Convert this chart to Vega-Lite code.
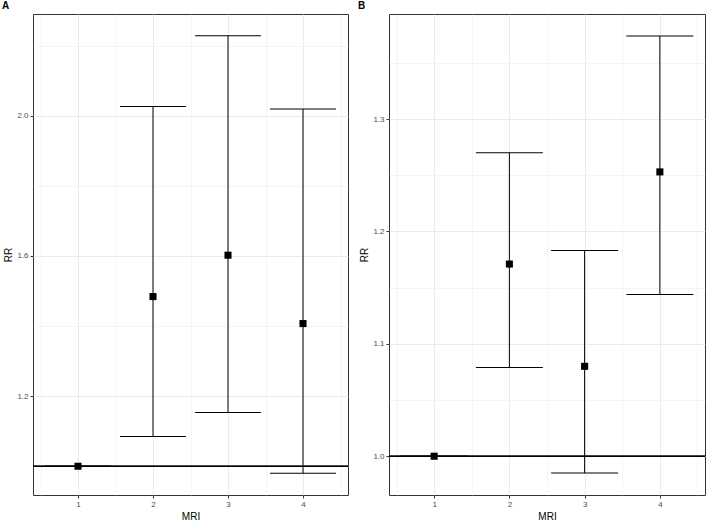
{
  "$schema": "https://vega.github.io/schema/vega-lite/v6.json",
  "background": "white",
  "padding": {"left": 1, "top": 0, "right": 3, "bottom": 2},
  "spacing": 8,
  "config": {
    "font": "Liberation Sans",
    "view": {"stroke": "#333333", "strokeWidth": 1},
    "axis": {
      "domain": false,
      "tickSize": 3,
      "tickColor": "#333333",
      "labelColor": "#4D4D4D",
      "labelFontSize": 8,
      "labelPadding": 2,
      "titleFontSize": 10,
      "titleFontWeight": "normal",
      "titleColor": "#000000",
      "titlePadding": 3,
      "gridColor": "#EBEBEB"
    },
    "title": {"fontSize": 10, "fontWeight": "bold", "anchor": "start", "frame": "group", "offset": 3}
  },
  "datasets": {
    "A": [
      {"MRI": 1, "RR": 1.0, "lower": 1.0, "upper": 1.0},
      {"MRI": 2, "RR": 1.484, "lower": 1.085, "upper": 2.026},
      {"MRI": 3, "RR": 1.602, "lower": 1.153, "upper": 2.228},
      {"MRI": 4, "RR": 1.407, "lower": 0.98, "upper": 2.019}
    ],
    "B": [
      {"MRI": 1, "RR": 1.0, "lower": 1.0, "upper": 1.0},
      {"MRI": 2, "RR": 1.171, "lower": 1.079, "upper": 1.27},
      {"MRI": 3, "RR": 1.08, "lower": 0.985, "upper": 1.183},
      {"MRI": 4, "RR": 1.253, "lower": 1.144, "upper": 1.374}
    ]
  },
  "hconcat": [
    {
      "title": {"text": "A", "dx": -31},
      "width": 315,
      "height": 481,
      "data": {"name": "A"},
      "encoding": {
        "x": {
          "field": "MRI", "type": "quantitative", "title": "MRI",
          "scale": {"domain": [0.4, 4.6], "nice": false, "zero": false},
          "axis": {
            "values": [0.5, 1, 1.5, 2, 2.5, 3, 3.5, 4, 4.5],
            "labelExpr": "datum.value % 1 === 0 ? format(datum.value, 'd') : ''",
            "gridWidth": {"condition": {"test": "datum.value % 1 === 0", "value": 1}, "value": 0.5},
            "tickOpacity": {"condition": {"test": "datum.value % 1 === 0", "value": 1}, "value": 0}
          }
        }
      },
      "layer": [
        {
          "mark": {"type": "rule", "color": "#000000", "strokeWidth": 1},
          "encoding": {
            "y": {
              "field": "lower", "type": "quantitative", "title": "RR",
              "scale": {"domain": [0.918, 2.29], "nice": false, "zero": false},
              "axis": {
                "values": [1.0, 1.2, 1.4, 1.6, 1.8, 2.0, 2.2],
                "labelExpr": "abs(datum.value/0.4 - round(datum.value/0.4)) < 0.01 ? format(datum.value, '.1f') : ''",
                "gridWidth": {"condition": {"test": "abs(datum.value/0.4 - round(datum.value/0.4)) < 0.01", "value": 1}, "value": 0.5},
                "tickOpacity": {"condition": {"test": "abs(datum.value/0.4 - round(datum.value/0.4)) < 0.01", "value": 1}, "value": 0}
              }
            },
            "y2": {"field": "upper"}
          }
        },
        {
          "mark": {"type": "tick", "orient": "horizontal", "size": 66, "thickness": 1, "color": "#000000", "opacity": 1},
          "encoding": {"y": {"field": "lower", "type": "quantitative", "title": "RR"}}
        },
        {
          "mark": {"type": "tick", "orient": "horizontal", "size": 66, "thickness": 1, "color": "#000000", "opacity": 1},
          "encoding": {"y": {"field": "upper", "type": "quantitative", "title": "RR"}}
        },
        {
          "mark": {"type": "rule", "color": "#000000", "strokeWidth": 1},
          "encoding": {"y": {"datum": 1, "type": "quantitative", "title": "RR"}, "x": null}
        },
        {
          "mark": {"type": "square", "size": 50, "color": "#000000", "opacity": 1, "filled": true},
          "encoding": {"y": {"field": "RR", "type": "quantitative", "title": "RR"}}
        }
      ]
    },
    {
      "title": {"text": "B", "dx": -31},
      "width": 316,
      "height": 481,
      "data": {"name": "B"},
      "encoding": {
        "x": {
          "field": "MRI", "type": "quantitative", "title": "MRI",
          "scale": {"domain": [0.4, 4.6], "nice": false, "zero": false},
          "axis": {
            "values": [0.5, 1, 1.5, 2, 2.5, 3, 3.5, 4, 4.5],
            "labelExpr": "datum.value % 1 === 0 ? format(datum.value, 'd') : ''",
            "gridWidth": {"condition": {"test": "datum.value % 1 === 0", "value": 1}, "value": 0.5},
            "tickOpacity": {"condition": {"test": "datum.value % 1 === 0", "value": 1}, "value": 0}
          }
        }
      },
      "layer": [
        {
          "mark": {"type": "rule", "color": "#000000", "strokeWidth": 1},
          "encoding": {
            "y": {
              "field": "lower", "type": "quantitative", "title": "RR",
              "scale": {"domain": [0.9655, 1.3935], "nice": false, "zero": false},
              "axis": {
                "values": [1.0, 1.05, 1.1, 1.15, 1.2, 1.25, 1.3, 1.35],
                "labelExpr": "abs(datum.value*10 - round(datum.value*10)) < 0.01 ? format(datum.value, '.1f') : ''",
                "gridWidth": {"condition": {"test": "abs(datum.value*10 - round(datum.value*10)) < 0.01", "value": 1}, "value": 0.5},
                "tickOpacity": {"condition": {"test": "abs(datum.value*10 - round(datum.value*10)) < 0.01", "value": 1}, "value": 0}
              }
            },
            "y2": {"field": "upper"}
          }
        },
        {
          "mark": {"type": "tick", "orient": "horizontal", "size": 67, "thickness": 1, "color": "#000000", "opacity": 1},
          "encoding": {"y": {"field": "lower", "type": "quantitative", "title": "RR"}}
        },
        {
          "mark": {"type": "tick", "orient": "horizontal", "size": 67, "thickness": 1, "color": "#000000", "opacity": 1},
          "encoding": {"y": {"field": "upper", "type": "quantitative", "title": "RR"}}
        },
        {
          "mark": {"type": "rule", "color": "#000000", "strokeWidth": 1},
          "encoding": {"y": {"datum": 1, "type": "quantitative", "title": "RR"}, "x": null}
        },
        {
          "mark": {"type": "square", "size": 50, "color": "#000000", "opacity": 1, "filled": true},
          "encoding": {"y": {"field": "RR", "type": "quantitative", "title": "RR"}}
        }
      ]
    }
  ]
}
